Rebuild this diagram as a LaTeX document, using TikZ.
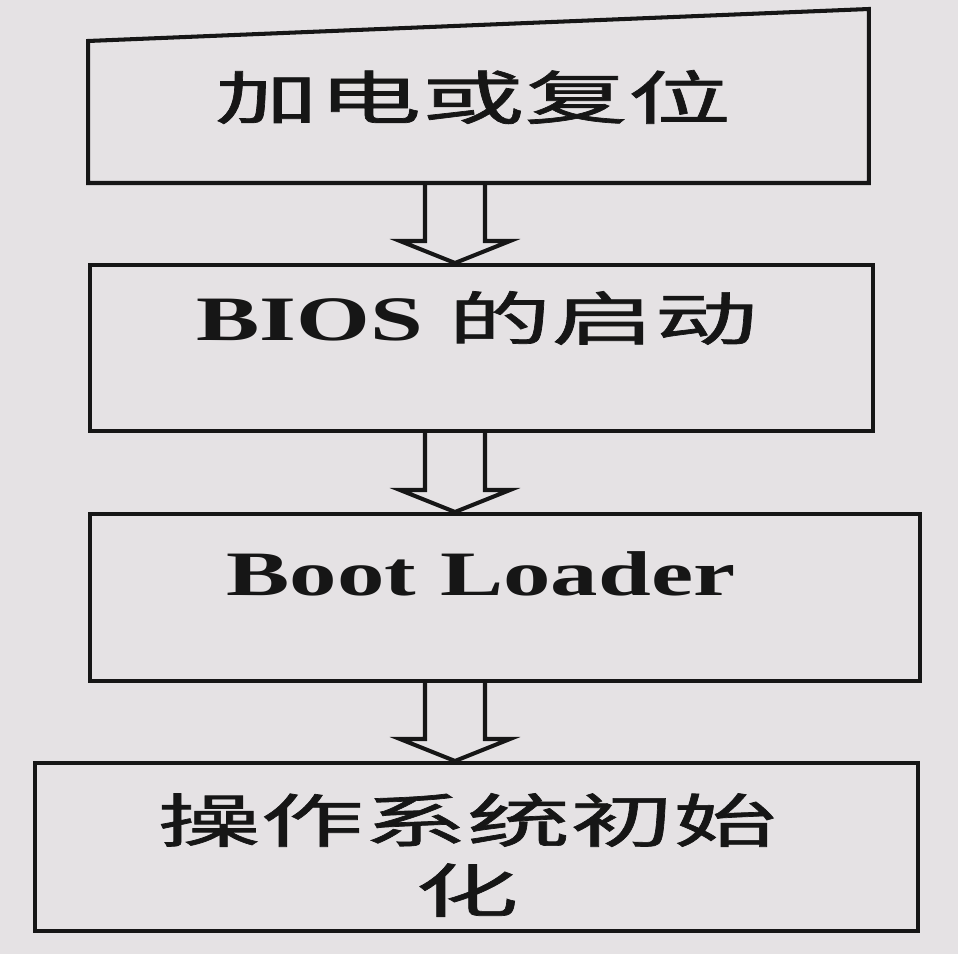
\documentclass[tikz,border=0pt]{standalone}
\usepackage{fontspec}
\newfontfamily\cjk[FakeStretch=1.78, FakeBold=1.2]{Noto Sans CJK SC}
\newfontfamily\lat[FakeStretch=1.5]{Liberation Serif}
\newcommand\latxt{\lat\bfseries\fontsize{36pt}{1.4cm}\selectfont}
\usetikzlibrary{calc}
\definecolor{paper}{RGB}{229,226,228}
\definecolor{ink}{RGB}{22,22,22}

\begin{document}
\begin{tikzpicture}[x=0.02cm, y=-0.02cm, line width=2.3pt, ink,
    box/.style={draw, rectangle, inner sep=0pt},
    txt/.style={font=\cjk\fontsize{33pt}{1.4cm}\selectfont, align=center, inner sep=0pt},
    hollow/.style={line join=miter}]
    % Paper
    \fill[paper] (0,0) rectangle (958,954);

    % Boxes
    \node[box, draw=none, minimum width=15.54cm, minimum height=3.4cm] (power) at (478.5,96) {};
    \node[box, minimum width=15.66cm, minimum height=3.32cm] (bios) at (481.5,348) {};
    \node[box, minimum width=16.6cm, minimum height=3.34cm] (loader) at (505,597.5) {};
    \node[box, minimum width=17.66cm, minimum height=3.36cm] (osinit) at (476.5,847) {};

    % First box has a slanted top edge
    \draw ([yshift=-0.64cm]power.north west) -- (power.north east) -- (power.south east) -- (power.south west) -- cycle;

    % Labels
    \node[txt] (tpower) at (473,97) {加电或复位};
    \node[txt] (tbios) at (477,318) {{\latxt BIOS}\hspace{0.5cm}的启动};
    \node[txt] (tloader) at (481,574) {\latxt Boot Loader};
    \node[txt] (tosinit) at (467,855) {操作系统初始\\化};

    % Hollow arrows between boxes
    \coordinate (ax) at (455,0);
    \foreach \a/\b in {power/bios, bios/loader, loader/osinit}
        \draw[hollow] ($(ax |- \a.south)+(-30,0)$) -- ($(ax |- \b.north)+(-30,-22)$) -- ++(-25,0)
            -- (ax |- \b.north) -- ($(ax |- \b.north)+(55,-22)$) -- ++(-25,0) -- ($(ax |- \a.south)+(30,0)$);
\end{tikzpicture}
\end{document}
